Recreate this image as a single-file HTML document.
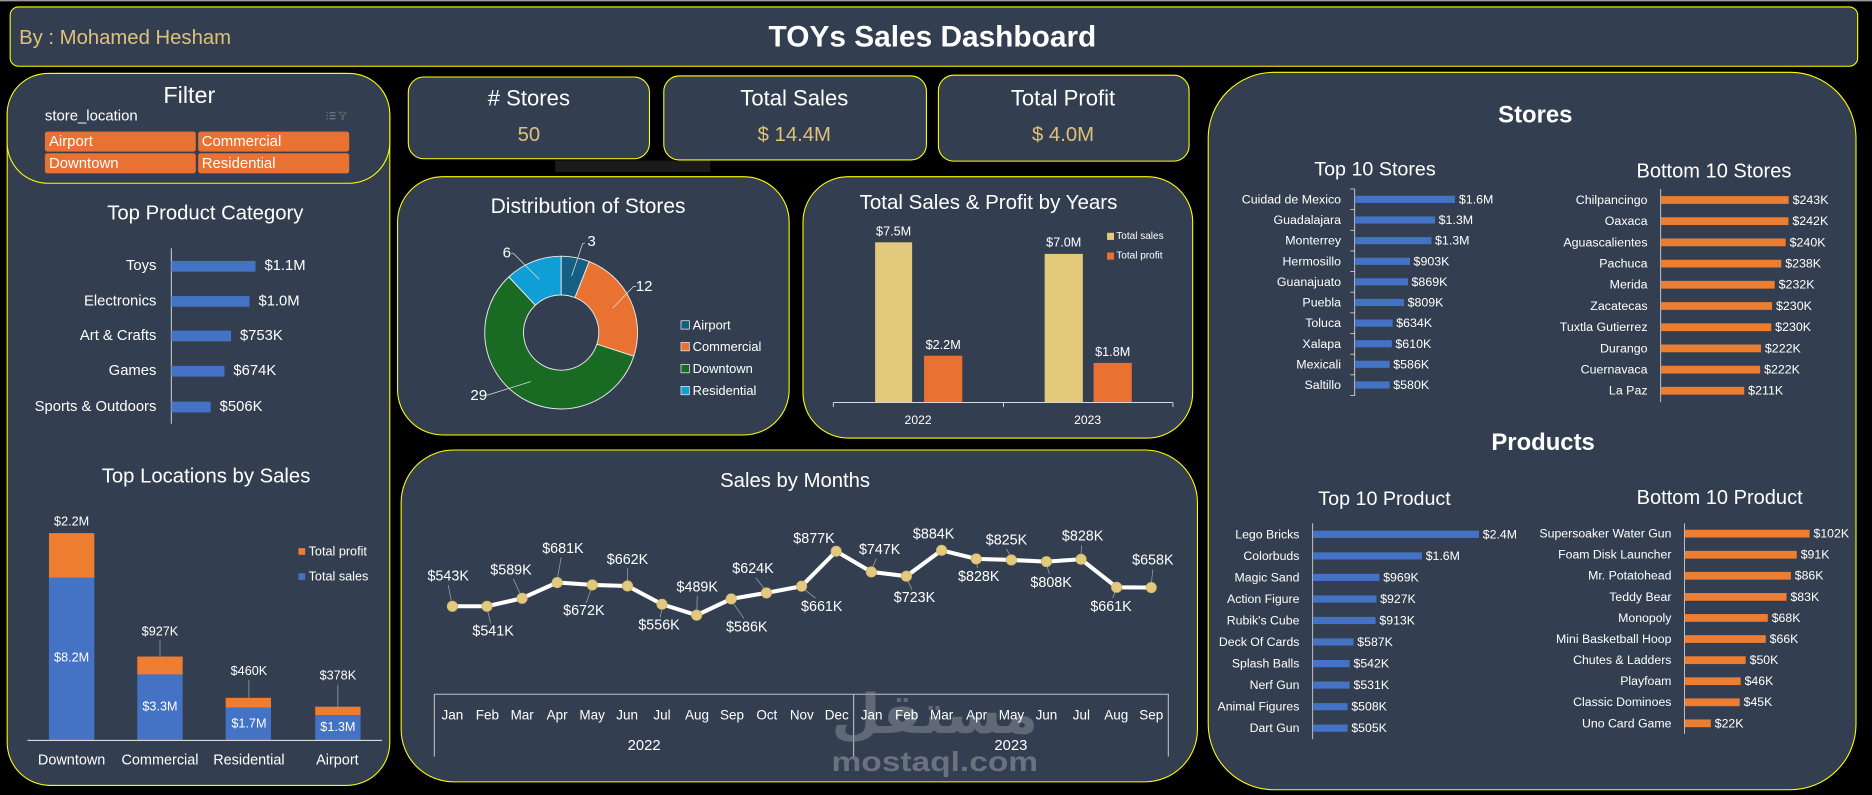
<!DOCTYPE html>
<html><head><meta charset="utf-8"><style>
html,body{margin:0;padding:0;background:#000;width:1872px;height:795px;overflow:hidden}
svg{display:block}
text{font-family:"Liberation Sans",Arial,sans-serif;fill:#fff}
.c{text-anchor:middle;dominant-baseline:central}
.l{dominant-baseline:central}
.r{text-anchor:end;dominant-baseline:central}
</style></head><body>
<svg width="1872" height="795" viewBox="0 0 1568 666" preserveAspectRatio="none" xmlns="http://www.w3.org/2000/svg">
<rect width="1568" height="666" fill="#000"/>
<line x1="0" y1="0.6" x2="1568" y2="0.6" stroke="#9a9a9a" stroke-width="1.2"/>

<!-- Header -->
<rect x="8.5" y="5.8" width="1547.5" height="49.7" rx="7" fill="#333f50" stroke="#ffff00" stroke-width="0.9"/>
<text class="l" x="16" y="32" font-size="17" style="fill:#dfc27a">By : Mohamed Hesham</text>
<text class="c" x="781" y="31" font-size="25" font-weight="bold">TOYs Sales Dashboard</text>

<!-- Left panel -->
<rect x="6" y="61.5" width="320.5" height="596.5" rx="36" fill="#333f50" stroke="#ffff00" stroke-width="0.9"/>
<rect x="6" y="61.5" width="320.5" height="92" rx="34" fill="#333f50" stroke="#ffff00" stroke-width="0.9"/>
<text class="c" x="158.6" y="79.6" font-size="19.6">Filter</text>
<text class="l" x="37.6" y="97" font-size="12.5">store_location</text>
<g stroke="#8a8a8a" stroke-width="0.8">
<line x1="276" y1="94.5" x2="281" y2="94.5"/><line x1="276" y1="97" x2="281" y2="97"/><line x1="276" y1="99.5" x2="281" y2="99.5"/>
<line x1="273.5" y1="94.5" x2="274.5" y2="94.5"/><line x1="273.5" y1="97" x2="274.5" y2="97"/><line x1="273.5" y1="99.5" x2="274.5" y2="99.5"/>
<path d="M284 94 L290 94 L287.5 97 L287.5 100 L286.5 100 L286.5 97 Z" fill="none" stroke="#666"/>
</g>
<rect x="37.6" y="110.3" width="126.4" height="16.7" rx="2" fill="#e97132"/>
<rect x="166" y="110.3" width="126.5" height="16.7" rx="2" fill="#e97132"/>
<rect x="37.6" y="128.4" width="126.4" height="16.8" rx="2" fill="#e97132"/>
<rect x="166" y="128.4" width="126.5" height="16.8" rx="2" fill="#e97132"/>
<text class="l" x="41" y="118.7" font-size="12.5">Airport</text>
<text class="l" x="169" y="118.7" font-size="12.5">Commercial</text>
<text class="l" x="41" y="136.8" font-size="12.5">Downtown</text>
<text class="l" x="169" y="136.8" font-size="12.5">Residential</text>

<!-- Top Product Category -->
<text class="c" x="172" y="178.7" font-size="17">Top Product Category</text>
<line x1="143.5" y1="208" x2="143.5" y2="355" stroke="#d9d9d9" stroke-width="0.8"/>
<g fill="#4472c4">
<rect x="143.5" y="218.6" width="70.5" height="9"/>
<rect x="143.5" y="248" width="65.5" height="9"/>
<rect x="143.5" y="277" width="50" height="9"/>
<rect x="143.5" y="306.5" width="44.5" height="9"/>
<rect x="143.5" y="336.5" width="33" height="9"/>
</g>
<g font-size="12.4">
<text class="r" x="131" y="223">Toys</text>
<text class="r" x="131" y="252.5">Electronics</text>
<text class="r" x="131" y="281.5">Art &amp; Crafts</text>
<text class="r" x="131" y="311">Games</text>
<text class="r" x="131" y="341">Sports &amp; Outdoors</text>
<text class="l" x="221.5" y="223">$1.1M</text>
<text class="l" x="216.5" y="252.5">$1.0M</text>
<text class="l" x="201" y="281.5">$753K</text>
<text class="l" x="195.5" y="311">$674K</text>
<text class="l" x="184" y="341">$506K</text>
</g>

<!-- Top Locations by Sales -->
<text class="c" x="172.6" y="399.3" font-size="17">Top Locations by Sales</text>
<g fill="#4472c4">
<rect x="41" y="484" width="38" height="136"/>
<rect x="115" y="565" width="38" height="55"/>
<rect x="189" y="592.7" width="38" height="27.3"/>
<rect x="264" y="599" width="38" height="21"/>
</g>
<g fill="#ed7d31">
<rect x="41" y="446.6" width="38" height="37.4"/>
<rect x="115" y="550" width="38" height="15"/>
<rect x="189" y="584.6" width="38" height="8.1"/>
<rect x="264" y="592" width="38" height="7"/>
</g>
<line x1="23" y1="620.3" x2="320" y2="620.3" stroke="#d9d9d9" stroke-width="1"/>
<g stroke="#a6a6a6" stroke-width="0.6">
<line x1="134" y1="536" x2="134" y2="550"/>
<line x1="208.5" y1="569.5" x2="208.5" y2="584.6"/>
<line x1="283" y1="573.7" x2="283" y2="592"/>
</g>
<g font-size="10.6">
<text class="c" x="60" y="437">$2.2M</text>
<text class="c" x="134" y="529">$927K</text>
<text class="c" x="208.5" y="562">$460K</text>
<text class="c" x="283" y="566">$378K</text>
<text class="c" x="60" y="551">$8.2M</text>
<text class="c" x="134" y="592">$3.3M</text>
<text class="c" x="208.5" y="606">$1.7M</text>
<text class="c" x="283" y="609">$1.3M</text>
</g>
<g font-size="12.1">
<text class="c" x="60" y="637">Downtown</text>
<text class="c" x="134" y="637">Commercial</text>
<text class="c" x="208.5" y="637">Residential</text>
<text class="c" x="282.6" y="637">Airport</text>
</g>
<rect x="250" y="459.2" width="5.6" height="5.6" fill="#ed7d31"/>
<rect x="250" y="480.2" width="5.6" height="5.6" fill="#4472c4"/>
<text class="l" x="258.5" y="462" font-size="10.6">Total profit</text>
<text class="l" x="258.5" y="483" font-size="10.6">Total sales</text>

<!-- KPI cards -->
<rect x="342" y="64.5" width="202" height="68.5" rx="13" fill="#333f50" stroke="#ffff00" stroke-width="0.9"/>
<rect x="556" y="63.6" width="220" height="70.4" rx="13" fill="#333f50" stroke="#ffff00" stroke-width="0.9"/>
<rect x="786" y="63" width="210" height="72" rx="13" fill="#333f50" stroke="#ffff00" stroke-width="0.9"/>
<rect x="465" y="134.5" width="130" height="9.5" fill="#1b1b1b"/>
<text class="c" x="443" y="82.3" font-size="18.5">#&#160;Stores</text>
<text class="c" x="443" y="113" font-size="17" style="fill:#dfc27a">50</text>
<text class="c" x="665.3" y="82.3" font-size="18.5">Total Sales</text>
<text class="c" x="665.3" y="113" font-size="17" style="fill:#dfc27a">$ 14.4M</text>
<text class="c" x="890.4" y="82.3" font-size="18.5">Total Profit</text>
<text class="c" x="890.4" y="113" font-size="17" style="fill:#dfc27a">$ 4.0M</text>

<!-- Distribution of Stores -->
<rect x="333" y="148" width="328" height="216.4" rx="38" fill="#333f50" stroke="#ffff00" stroke-width="0.9"/>
<text class="c" x="492.6" y="173" font-size="17.6">Distribution of Stores</text>
<g stroke="#e8e8e8" stroke-width="0.8">
<path d="M470,214.6 A64,64 0 0 1 493.56,219.09 L481.6,249.31 A31.5,31.5 0 0 0 470,247.1 Z" fill="#156082"/>
<path d="M493.56,219.09 A64,64 0 0 1 530.87,298.38 L499.96,288.33 A31.5,31.5 0 0 0 481.6,249.31 Z" fill="#e97132"/>
<path d="M530.87,298.38 A64,64 0 1 1 426.19,231.94 L448.44,255.64 A31.5,31.5 0 1 0 499.96,288.33 Z" fill="#196b24"/>
<path d="M426.19,231.94 A64,64 0 0 1 470,214.6 L470,247.1 A31.5,31.5 0 0 0 448.44,255.64 Z" fill="#0f9ed5"/>
</g>
<g stroke="#e0e0e0" stroke-width="0.6" fill="none">
<polyline points="490,203.5 488,204 478.8,231.2"/>
<polyline points="533,240.1 530.5,240.1 513.2,258.2"/>
<polyline points="428,212 430,212.2 451.7,234"/>
<polyline points="407,331 409,330.8 444.5,319.7"/>
</g>
<g font-size="12.6">
<text class="c" x="495.5" y="202.4">3</text>
<text class="c" x="539.5" y="240">12</text>
<text class="c" x="424.5" y="212">6</text>
<text class="c" x="401" y="331.4">29</text>
</g>
<g stroke="#f0f0f0" stroke-width="0.6">
<rect x="570.4" y="268.7" width="7" height="7" fill="#156082"/>
<rect x="570.4" y="286.9" width="7" height="7" fill="#e97132"/>
<rect x="570.4" y="305.3" width="7" height="7" fill="#196b24"/>
<rect x="570.4" y="323.7" width="7" height="7" fill="#0f9ed5"/>
</g>
<g font-size="10.8">
<text class="l" x="580.2" y="272.2">Airport</text>
<text class="l" x="580.2" y="290.4">Commercial</text>
<text class="l" x="580.2" y="308.8">Downtown</text>
<text class="l" x="580.2" y="327.2">Residential</text>
</g>

<!-- Total Sales & Profit by Years -->
<rect x="672.6" y="148" width="326.4" height="219" rx="38" fill="#333f50" stroke="#ffff00" stroke-width="0.9"/>
<text class="c" x="828" y="169.8" font-size="17.2">Total Sales &amp; Profit by Years</text>
<rect x="733" y="203" width="31" height="134" fill="#e2c97c"/>
<rect x="774" y="298" width="32" height="39" fill="#e97132"/>
<rect x="875" y="212.7" width="32" height="124.3" fill="#e2c97c"/>
<rect x="916" y="304" width="32" height="33" fill="#e97132"/>
<g stroke="#d9d9d9" stroke-width="0.8">
<line x1="698" y1="337.2" x2="982.5" y2="337.2"/>
<line x1="698" y1="337.2" x2="698" y2="341"/>
<line x1="840.5" y1="337.2" x2="840.5" y2="341"/>
<line x1="982.5" y1="337.2" x2="982.5" y2="341"/>
</g>
<g font-size="10.6">
<text class="c" x="748.5" y="194">$7.5M</text>
<text class="c" x="790" y="289">$2.2M</text>
<text class="c" x="891" y="203">$7.0M</text>
<text class="c" x="932" y="295">$1.8M</text>
</g>
<text class="c" x="769" y="351.7" font-size="10.2">2022</text>
<text class="c" x="911" y="351.7" font-size="10.2">2023</text>
<rect x="927.3" y="195" width="5.8" height="6" fill="#e2c97c"/>
<rect x="927.3" y="211.5" width="5.8" height="6" fill="#e97132"/>
<text class="l" x="935" y="198" font-size="8.4">Total sales</text>
<text class="l" x="935" y="214.5" font-size="8.4">Total profit</text>

<!-- Sales by Months -->
<rect x="336" y="377" width="667" height="278" rx="44" fill="#333f50" stroke="#ffff00" stroke-width="0.9"/>
<text class="c" x="666" y="403" font-size="17">Sales by Months</text>
<g stroke="#bfbfbf" stroke-width="0.9" fill="none">
<polyline points="363.8,633.8 363.8,581.6 978.6,581.6 978.6,633.8"/>
<line x1="715" y1="581.6" x2="715" y2="633.8"/>
</g>
<!-- watermark -->
<text class="c" x="783" y="598" font-size="46" font-weight="bold" textLength="173" lengthAdjust="spacingAndGlyphs" style="font-family:'DejaVu Sans',sans-serif;fill:#8e949c;opacity:0.5">مستقل</text>
<text x="783" y="646" font-size="23" font-weight="bold" text-anchor="middle" textLength="173" lengthAdjust="spacingAndGlyphs" style="fill:#8e949c;opacity:0.6">mostaql.com</text>
<g font-size="11.3">
<text class="c" x="378.9" y="599">Jan</text>
<text class="c" x="408.2" y="599">Feb</text>
<text class="c" x="437.4" y="599">Mar</text>
<text class="c" x="466.7" y="599">Apr</text>
<text class="c" x="496" y="599">May</text>
<text class="c" x="525.3" y="599">Jun</text>
<text class="c" x="554.5" y="599">Jul</text>
<text class="c" x="583.8" y="599">Aug</text>
<text class="c" x="613.1" y="599">Sep</text>
<text class="c" x="642.3" y="599">Oct</text>
<text class="c" x="671.6" y="599">Nov</text>
<text class="c" x="700.9" y="599">Dec</text>
<text class="c" x="730.1" y="599">Jan</text>
<text class="c" x="759.4" y="599">Feb</text>
<text class="c" x="788.7" y="599">Mar</text>
<text class="c" x="818" y="599">Apr</text>
<text class="c" x="847.2" y="599">May</text>
<text class="c" x="876.5" y="599">Jun</text>
<text class="c" x="905.8" y="599">Jul</text>
<text class="c" x="935" y="599">Aug</text>
<text class="c" x="964.3" y="599">Sep</text>
</g>
<text class="c" x="539.5" y="625" font-size="12.4">2022</text>
<text class="c" x="846.7" y="625" font-size="12.4">2023</text>
<g stroke="#a6a6a6" stroke-width="0.6">
<line x1="375.4" y1="490" x2="378" y2="503"/>
<line x1="411" y1="522" x2="408.5" y2="512"/>
<line x1="430" y1="485" x2="435.5" y2="497"/>
<line x1="470" y1="467" x2="467" y2="484"/>
<line x1="491" y1="505" x2="495" y2="494"/>
<line x1="525.6" y1="476" x2="525.6" y2="487"/>
<line x1="553" y1="517" x2="554.5" y2="510"/>
<line x1="584" y1="499" x2="583.7" y2="511"/>
<line x1="623" y1="518" x2="614" y2="505"/>
<line x1="633" y1="484" x2="640" y2="493"/>
<line x1="683" y1="501" x2="674" y2="494"/>
<line x1="734" y1="468" x2="731" y2="475"/>
<line x1="764" y1="494" x2="760" y2="486"/>
<line x1="819" y1="476" x2="818" y2="472"/>
<line x1="843" y1="460" x2="846" y2="465"/>
<line x1="879" y1="481" x2="877" y2="474"/>
<line x1="906" y1="457" x2="905.5" y2="464"/>
<line x1="932" y1="501" x2="934" y2="496"/>
<line x1="965.6" y1="477" x2="964.5" y2="488"/>
</g>
<polyline fill="none" stroke="#ffffff" stroke-width="3.4" stroke-linejoin="round" points="378.9,507.9 407.9,507.9 437.3,501.2 466.7,488 496.1,490 525.6,490.9 554.5,506.2 583.5,515.4 612.5,501.7 642,496.7 671.4,491.1 700.4,461.8 729.8,479.1 759.2,482.7 788.7,461 817.7,468.2 847.1,469.1 876.5,470.5 905.5,468.5 935.3,492 964.3,492.2"/>
<g fill="#e2c97c" stroke="#cdb46a" stroke-width="0.5">
<circle cx="378.9" cy="507.9" r="4.4"/><circle cx="407.9" cy="507.9" r="4.4"/><circle cx="437.3" cy="501.2" r="4.4"/><circle cx="466.7" cy="488" r="4.4"/><circle cx="496.1" cy="490" r="4.4"/><circle cx="525.6" cy="490.9" r="4.4"/><circle cx="554.5" cy="506.2" r="4.4"/><circle cx="583.5" cy="515.4" r="4.4"/><circle cx="612.5" cy="501.7" r="4.4"/><circle cx="642" cy="496.7" r="4.4"/><circle cx="671.4" cy="491.1" r="4.4"/><circle cx="700.4" cy="461.8" r="4.4"/><circle cx="729.8" cy="479.1" r="4.4"/><circle cx="759.2" cy="482.7" r="4.4"/><circle cx="788.7" cy="461" r="4.4"/><circle cx="817.7" cy="468.2" r="4.4"/><circle cx="847.1" cy="469.1" r="4.4"/><circle cx="876.5" cy="470.5" r="4.4"/><circle cx="905.5" cy="468.5" r="4.4"/><circle cx="935.3" cy="492" r="4.4"/><circle cx="964.3" cy="492.2" r="4.4"/>
</g>
<g font-size="12">
<text class="c" x="375.4" y="483">$543K</text>
<text class="c" x="413" y="529">$541K</text>
<text class="c" x="428" y="478">$589K</text>
<text class="c" x="471.5" y="460">$681K</text>
<text class="c" x="489" y="512">$672K</text>
<text class="c" x="525.6" y="469">$662K</text>
<text class="c" x="552" y="524">$556K</text>
<text class="c" x="584" y="492">$489K</text>
<text class="c" x="625.5" y="525.7">$586K</text>
<text class="c" x="630.7" y="476.6">$624K</text>
<text class="c" x="688.3" y="508.4">$661K</text>
<text class="c" x="681.8" y="451.5">$877K</text>
<text class="c" x="736.8" y="460.7">$747K</text>
<text class="c" x="766" y="501">$723K</text>
<text class="c" x="782" y="447.6">$884K</text>
<text class="c" x="819.8" y="483.3">$828K</text>
<text class="c" x="843" y="452.9">$825K</text>
<text class="c" x="880.4" y="488.6">$808K</text>
<text class="c" x="906.8" y="449.5">$828K</text>
<text class="c" x="930.6" y="508.4">$661K</text>
<text class="c" x="965.6" y="469.6">$658K</text>
</g>

<!-- Right panel -->
<rect x="1012" y="60.6" width="542.6" height="601" rx="55" fill="#333f50" stroke="#ffff00" stroke-width="0.9"/>
<text class="c" x="1286" y="96.3" font-size="20" font-weight="bold">Stores</text>
<text class="c" x="1151.7" y="141.8" font-size="16.5">Top 10 Stores</text>
<text class="c" x="1435.6" y="143.8" font-size="16.8">Bottom 10 Stores</text>

<!-- top stores -->
<g stroke="#d9d9d9" stroke-width="0.7">
<line x1="1134.7" y1="158.3" x2="1134.7" y2="331.4"/>
<line x1="1131" y1="158.3" x2="1134.7" y2="158.3"/><line x1="1131" y1="175.6" x2="1134.7" y2="175.6"/><line x1="1131" y1="192.9" x2="1134.7" y2="192.9"/><line x1="1131" y1="210.2" x2="1134.7" y2="210.2"/><line x1="1131" y1="227.5" x2="1134.7" y2="227.5"/><line x1="1131" y1="244.8" x2="1134.7" y2="244.8"/><line x1="1131" y1="262.1" x2="1134.7" y2="262.1"/><line x1="1131" y1="279.4" x2="1134.7" y2="279.4"/><line x1="1131" y1="296.7" x2="1134.7" y2="296.7"/><line x1="1131" y1="314" x2="1134.7" y2="314"/><line x1="1131" y1="331.4" x2="1134.7" y2="331.4"/>
</g>
<g fill="#4472c4">
<rect x="1135" y="164" width="83.7" height="6"/>
<rect x="1135" y="181.3" width="67" height="6"/>
<rect x="1135" y="198.6" width="64" height="6"/>
<rect x="1135" y="215.9" width="46" height="6"/>
<rect x="1135" y="233.1" width="44.3" height="6"/>
<rect x="1135" y="250.4" width="41" height="6"/>
<rect x="1135" y="267.7" width="31.5" height="6"/>
<rect x="1135" y="285" width="30.8" height="6"/>
<rect x="1135" y="302.2" width="29" height="6"/>
<rect x="1135" y="319.5" width="29" height="6"/>
</g>
<g font-size="10.4">
<text class="r" x="1123.3" y="167">Cuidad de Mexico</text>
<text class="r" x="1123.3" y="184.3">Guadalajara</text>
<text class="r" x="1123.3" y="201.6">Monterrey</text>
<text class="r" x="1123.3" y="218.9">Hermosillo</text>
<text class="r" x="1123.3" y="236.1">Guanajuato</text>
<text class="r" x="1123.3" y="253.4">Puebla</text>
<text class="r" x="1123.3" y="270.7">Toluca</text>
<text class="r" x="1123.3" y="288">Xalapa</text>
<text class="r" x="1123.3" y="305.2">Mexicali</text>
<text class="r" x="1123.3" y="322.5">Saltillo</text>
<text class="l" x="1222" y="167">$1.6M</text>
<text class="l" x="1205" y="184.3">$1.3M</text>
<text class="l" x="1202" y="201.6">$1.3M</text>
<text class="l" x="1184" y="218.9">$903K</text>
<text class="l" x="1182.3" y="236.1">$869K</text>
<text class="l" x="1179" y="253.4">$809K</text>
<text class="l" x="1169.5" y="270.7">$634K</text>
<text class="l" x="1168.8" y="288">$610K</text>
<text class="l" x="1167" y="305.2">$586K</text>
<text class="l" x="1167" y="322.5">$580K</text>
</g>

<!-- bottom stores -->
<line x1="1391" y1="158.3" x2="1391" y2="337" stroke="#d9d9d9" stroke-width="0.7"/>
<g fill="#ed7d31">
<rect x="1391.3" y="164.3" width="106.9" height="6.5"/>
<rect x="1391.3" y="182" width="106.7" height="6.5"/>
<rect x="1391.3" y="199.8" width="104.4" height="6.5"/>
<rect x="1391.3" y="217.6" width="100.7" height="6.5"/>
<rect x="1391.3" y="235.3" width="95.2" height="6.5"/>
<rect x="1391.3" y="253.1" width="93" height="6.5"/>
<rect x="1391.3" y="270.9" width="92.3" height="6.5"/>
<rect x="1391.3" y="288.6" width="83.7" height="6.5"/>
<rect x="1391.3" y="306.4" width="83" height="6.5"/>
<rect x="1391.3" y="324.1" width="69.7" height="6.5"/>
</g>
<g font-size="10.4">
<text class="r" x="1380" y="167.5">Chilpancingo</text>
<text class="r" x="1380" y="185.3">Oaxaca</text>
<text class="r" x="1380" y="203">Aguascalientes</text>
<text class="r" x="1380" y="220.8">Pachuca</text>
<text class="r" x="1380" y="238.5">Merida</text>
<text class="r" x="1380" y="256.3">Zacatecas</text>
<text class="r" x="1380" y="274.1">Tuxtla Gutierrez</text>
<text class="r" x="1380" y="291.8">Durango</text>
<text class="r" x="1380" y="309.6">Cuernavaca</text>
<text class="r" x="1380" y="327.3">La Paz</text>
<text class="l" x="1501.5" y="167.5">$243K</text>
<text class="l" x="1501.3" y="185.3">$242K</text>
<text class="l" x="1499" y="203">$240K</text>
<text class="l" x="1495.3" y="220.8">$238K</text>
<text class="l" x="1489.8" y="238.5">$232K</text>
<text class="l" x="1487.6" y="256.3">$230K</text>
<text class="l" x="1486.9" y="274.1">$230K</text>
<text class="l" x="1478.3" y="291.8">$222K</text>
<text class="l" x="1477.6" y="309.6">$222K</text>
<text class="l" x="1464.3" y="327.3">$211K</text>
</g>

<text class="c" x="1292.5" y="370.8" font-size="20" font-weight="bold">Products</text>
<text class="c" x="1159.7" y="418" font-size="16.5">Top 10 Product</text>
<text class="c" x="1440.4" y="417.4" font-size="16.8">Bottom 10 Product</text>

<!-- top products -->
<line x1="1099.5" y1="438.3" x2="1099.5" y2="619.3" stroke="#d9d9d9" stroke-width="0.7"/>
<g fill="#4472c4">
<rect x="1099.8" y="444.6" width="139" height="6"/>
<rect x="1099.8" y="462.7" width="91.2" height="6"/>
<rect x="1099.8" y="480.7" width="55.6" height="6"/>
<rect x="1099.8" y="498.8" width="53.1" height="6"/>
<rect x="1099.8" y="516.8" width="52.4" height="6"/>
<rect x="1099.8" y="534.8" width="33.9" height="6"/>
<rect x="1099.8" y="552.9" width="30.7" height="6"/>
<rect x="1099.8" y="570.9" width="30.7" height="6"/>
<rect x="1099.8" y="589" width="28.9" height="6"/>
<rect x="1099.8" y="607" width="28.9" height="6"/>
</g>
<g font-size="10.3">
<text class="r" x="1088.4" y="447.6">Lego Bricks</text>
<text class="r" x="1088.4" y="465.7">Colorbuds</text>
<text class="r" x="1088.4" y="483.7">Magic Sand</text>
<text class="r" x="1088.4" y="501.8">Action Figure</text>
<text class="r" x="1088.4" y="519.8">Rubik's Cube</text>
<text class="r" x="1088.4" y="537.8">Deck Of Cards</text>
<text class="r" x="1088.4" y="555.9">Splash Balls</text>
<text class="r" x="1088.4" y="573.9">Nerf Gun</text>
<text class="r" x="1088.4" y="592">Animal Figures</text>
<text class="r" x="1088.4" y="610">Dart Gun</text>
<text class="l" x="1242" y="447.6">$2.4M</text>
<text class="l" x="1194.2" y="465.7">$1.6M</text>
<text class="l" x="1158.6" y="483.7">$969K</text>
<text class="l" x="1156.1" y="501.8">$927K</text>
<text class="l" x="1155.4" y="519.8">$913K</text>
<text class="l" x="1136.9" y="537.8">$587K</text>
<text class="l" x="1133.7" y="555.9">$542K</text>
<text class="l" x="1133.7" y="573.9">$531K</text>
<text class="l" x="1131.9" y="592">$508K</text>
<text class="l" x="1131.9" y="610">$505K</text>
</g>

<!-- bottom products -->
<line x1="1410.9" y1="438.3" x2="1410.9" y2="614.8" stroke="#d9d9d9" stroke-width="0.7"/>
<g fill="#ed7d31">
<rect x="1411.2" y="443.8" width="104.5" height="6.5"/>
<rect x="1411.2" y="461.5" width="93.8" height="6.5"/>
<rect x="1411.2" y="479.1" width="88.8" height="6.5"/>
<rect x="1411.2" y="496.8" width="85.2" height="6.5"/>
<rect x="1411.2" y="514.4" width="69.5" height="6.5"/>
<rect x="1411.2" y="532.1" width="67.8" height="6.5"/>
<rect x="1411.2" y="549.8" width="51" height="6.5"/>
<rect x="1411.2" y="567.4" width="46.8" height="6.5"/>
<rect x="1411.2" y="585.1" width="46" height="6.5"/>
<rect x="1411.2" y="602.7" width="21.8" height="6.5"/>
</g>
<g font-size="10.3">
<text class="r" x="1400" y="447">Supersoaker Water Gun</text>
<text class="r" x="1400" y="464.7">Foam Disk Launcher</text>
<text class="r" x="1400" y="482.3">Mr. Potatohead</text>
<text class="r" x="1400" y="500">Teddy Bear</text>
<text class="r" x="1400" y="517.6">Monopoly</text>
<text class="r" x="1400" y="535.3">Mini Basketball Hoop</text>
<text class="r" x="1400" y="553">Chutes &amp; Ladders</text>
<text class="r" x="1400" y="570.6">Playfoam</text>
<text class="r" x="1400" y="588.3">Classic Dominoes</text>
<text class="r" x="1400" y="605.9">Uno Card Game</text>
<text class="l" x="1519" y="447">$102K</text>
<text class="l" x="1508.3" y="464.7">$91K</text>
<text class="l" x="1503.3" y="482.3">$86K</text>
<text class="l" x="1499.7" y="500">$83K</text>
<text class="l" x="1484" y="517.6">$68K</text>
<text class="l" x="1482.3" y="535.3">$66K</text>
<text class="l" x="1465.5" y="553">$50K</text>
<text class="l" x="1461.3" y="570.6">$46K</text>
<text class="l" x="1460.5" y="588.3">$45K</text>
<text class="l" x="1436.3" y="605.9">$22K</text>
</g>
</svg>
</body></html>
